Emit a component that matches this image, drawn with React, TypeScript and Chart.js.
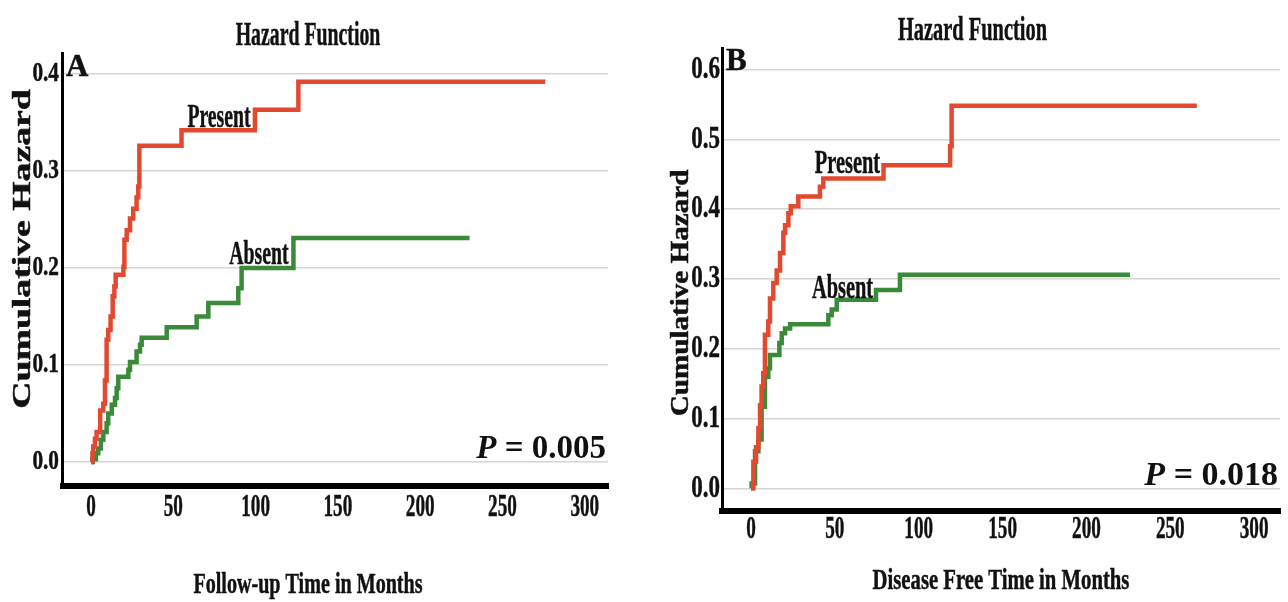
import React, { useEffect, useRef } from "react";
import { Chart, registerables } from "chart.js";

Chart.register(...registerables);

// ---------- data ----------
const xTicks = [0, 50, 100, 150, 200, 250, 300];
const yTicksA = [0, 0.1, 0.2, 0.3, 0.4];
const yTicksB = [0, 0.1, 0.2, 0.3, 0.4, 0.5, 0.6];

const seriesNames = ["Present", "Absent"];

// Panel A: Follow-up time
const presentTimeA = [0, 0.9, 1.4, 2.4, 3.4, 5.6, 7.5, 8.5, 9.5, 10.5, 11.9, 13.2, 14.2, 15, 19.7, 20.3, 21.7, 23.7, 25.7, 27.7, 28.7, 29.4, 55, 99.6, 126, 276];
const presentHazardA = [0, 0.009, 0.016, 0.024, 0.031, 0.053, 0.06, 0.084, 0.126, 0.136, 0.15, 0.171, 0.181, 0.193, 0.201, 0.229, 0.239, 0.251, 0.261, 0.273, 0.284, 0.326, 0.342, 0.363, 0.392, 0.392];
const absentTimeA = [0, 1, 3, 4.4, 6, 7.5, 9.5, 10.5, 12.6, 14.6, 15.6, 16.6, 22.7, 23.7, 27.7, 29.8, 30.8, 46, 64.2, 71.3, 89.5, 91.5, 123, 230];
const absentHazardA = [0, 0.003, 0.009, 0.014, 0.023, 0.031, 0.04, 0.05, 0.059, 0.066, 0.076, 0.088, 0.095, 0.103, 0.114, 0.121, 0.128, 0.139, 0.15, 0.164, 0.179, 0.2, 0.231, 0.231];

// Panel B: Disease free time
const presentTimeB = [0, 0.4, 1.4, 3.0, 4.4, 5.4, 6.3, 7.3, 8.3, 10.3, 11.3, 13.3, 15.3, 17.3, 19.3, 20.3, 22.3, 23.7, 28.2, 41.1, 43.1, 79, 118.7, 119.6, 265.8];
const presentHazardB = [0, 0, 0.038, 0.059, 0.086, 0.119, 0.146, 0.165, 0.22, 0.239, 0.272, 0.294, 0.312, 0.337, 0.366, 0.377, 0.394, 0.404, 0.418, 0.432, 0.444, 0.463, 0.49, 0.548, 0.548];
const absentTimeB = [0, 0.4, 2.4, 4.4, 6.3, 8.3, 10.3, 11.3, 16.9, 18.3, 20.3, 23.3, 46.1, 48.1, 51.1, 74.5, 88.8, 226];
const absentHazardB = [0, 0.007, 0.053, 0.07, 0.117, 0.16, 0.172, 0.191, 0.208, 0.222, 0.229, 0.235, 0.248, 0.256, 0.27, 0.284, 0.306, 0.306];

const titleText = "Hazard Function";
const yTitleText = "Cumulative Hazard";
const xTitleA = "Follow-up Time in Months";
const xTitleB = "Disease Free Time in Months";
const pValueA = "0.005";
const pValueB = "0.018";

// ---------- styling ----------
const FONT = '"Liberation Serif", "Times New Roman", serif';
const RED = "#e2492f";
const GREEN = "#3b8a3a";
const GRID = "#d8d4cf";
const INK = "#111111";

type Txt = {
  text: string;
  x: number;
  y: number;
  size: number;
  sx?: number;
  align?: CanvasTextAlign;
  baseline?: CanvasTextBaseline;
  rotate?: boolean;
};

function put(ctx: CanvasRenderingContext2D, t: Txt) {
  ctx.save();
  ctx.translate(t.x, t.y);
  if (t.rotate) ctx.rotate(-Math.PI / 2);
  ctx.scale(t.sx ?? 1, 1);
  ctx.font = `bold ${t.size}px ${FONT}`;
  ctx.textAlign = t.align ?? "center";
  ctx.textBaseline = t.baseline ?? "alphabetic";
  ctx.fillStyle = INK;
  ctx.strokeStyle = INK;
  ctx.lineWidth = 0.5;
  ctx.fillText(t.text, 0, 0);
  ctx.strokeText(t.text, 0, 0);
  ctx.restore();
}

function putP(ctx: CanvasRenderingContext2D, value: string, right: number, baseline: number, size: number) {
  ctx.save();
  ctx.fillStyle = INK;
  ctx.textBaseline = "alphabetic";
  ctx.textAlign = "left";
  ctx.font = `italic bold ${size}px ${FONT}`;
  const wP = ctx.measureText("P").width;
  ctx.font = `bold ${size}px ${FONT}`;
  const rest = " = " + value;
  const wR = ctx.measureText(rest).width;
  const x0 = right - wP - wR;
  ctx.font = `italic bold ${size}px ${FONT}`;
  ctx.fillText("P", x0, baseline);
  ctx.font = `bold ${size}px ${FONT}`;
  ctx.fillText(rest, x0 + wP, baseline);
  ctx.restore();
}

interface PanelSpec {
  pad: { left: number; top: number; right: number; bottom: number };
  xMin: number;
  xMax: number;
  yMin: number;
  yMax: number;
  yTicks: number[];
  present: { x: number; y: number }[];
  absent: { x: number; y: number }[];
  yTick: { right: number; size: number; sx: number };
  xTick: { y: number; size: number; sx: number };
  texts: Txt[];
  p: { value: string; right: number; baseline: number; size: number };
  xBorder: number;
  yBorder: number;
}

const zip = (xs: number[], ys: number[]) => xs.map((x, i) => ({ x, y: ys[i] }));

function makePlugin(spec: PanelSpec) {
  return {
    id: "panelText",
    afterDraw(chart: any) {
      const ctx: CanvasRenderingContext2D = chart.ctx;
      const xs = chart.scales.x;
      const ys = chart.scales.y;
      ys.ticks.forEach((tk: any) => {
        put(ctx, {
          text: tk.value.toFixed(1),
          x: spec.yTick.right,
          y: ys.getPixelForValue(tk.value),
          size: spec.yTick.size,
          sx: spec.yTick.sx,
          align: "right",
          baseline: "middle",
        });
      });
      xs.ticks.forEach((tk: any) => {
        put(ctx, {
          text: String(tk.value),
          x: xs.getPixelForValue(tk.value),
          y: spec.xTick.y,
          size: spec.xTick.size,
          sx: spec.xTick.sx,
          align: "center",
          baseline: "middle",
        });
      });
      spec.texts.forEach((t) => put(ctx, t));
      putP(ctx, spec.p.value, spec.p.right, spec.p.baseline, spec.p.size);
    },
  };
}

function Panel({ spec, left, width }: { spec: PanelSpec; left: number; width: number }) {
  const ref = useRef<HTMLCanvasElement | null>(null);
  useEffect(() => {
    if (!ref.current) return;
    const chart = new Chart(ref.current, {
      type: "line",
      data: {
        datasets: [
          {
            label: seriesNames[0],
            data: spec.present,
            borderColor: RED,
            backgroundColor: RED,
            borderWidth: 4.5,
            stepped: true,
            pointRadius: 0,
            fill: false,
            borderCapStyle: "butt",
            borderJoinStyle: "miter",
          },
          {
            label: seriesNames[1],
            data: spec.absent,
            borderColor: GREEN,
            backgroundColor: GREEN,
            borderWidth: 4.5,
            stepped: true,
            pointRadius: 0,
            fill: false,
            borderCapStyle: "butt",
            borderJoinStyle: "miter",
          },
        ],
      },
      options: {
        animation: false,
        responsive: true,
        maintainAspectRatio: false,
        events: [],
        layout: { padding: spec.pad },
        plugins: {
          legend: { display: false },
          tooltip: { enabled: false },
          title: { display: false },
        },
        scales: {
          x: {
            type: "linear",
            min: spec.xMin,
            max: spec.xMax,
            grid: { display: false, drawTicks: false },
            border: { display: true, color: "#000", width: spec.xBorder },
            ticks: { display: false },
            afterBuildTicks: (ax: any) => {
              ax.ticks = xTicks.map((v) => ({ value: v }));
            },
          },
          y: {
            type: "linear",
            min: spec.yMin,
            max: spec.yMax,
            grid: { display: true, color: GRID, lineWidth: 1.5, drawTicks: false },
            border: { display: true, color: "#000", width: spec.yBorder },
            ticks: { display: false },
            afterBuildTicks: (ax: any) => {
              ax.ticks = spec.yTicks.map((v) => ({ value: v }));
            },
          },
        },
      } as any,
      plugins: [makePlugin(spec)],
    });
    return () => chart.destroy();
  }, [spec]);
  return (
    <div style={{ position: "absolute", left, top: 0, width, height: 602 }}>
      <canvas ref={ref} />
    </div>
  );
}

const specA: PanelSpec = {
  pad: { left: 62.5, top: 53, right: 32, bottom: 116 },
  xMin: -17.3,
  xMax: 314.1,
  yMin: -0.0247,
  yMax: 0.4216,
  yTicks: yTicksA,
  present: zip(presentTimeA, presentHazardA),
  absent: zip(absentTimeA, absentHazardA),
  yTick: { right: 59, size: 28, sx: 0.76 },
  xTick: { y: 508, size: 32, sx: 0.6 },
  texts: [
    { text: titleText, x: 308, y: 45, size: 33, sx: 0.6 },
    { text: "A", x: 66, y: 76, size: 31, sx: 1.0, align: "left" },
    { text: seriesNames[0], x: 219, y: 127, size: 34, sx: 0.58 },
    { text: seriesNames[1], x: 259, y: 264, size: 33, sx: 0.6 },
    { text: yTitleText, x: 23, y: 249, size: 26, sx: 1.45, rotate: true, baseline: "middle" },
    { text: xTitleA, x: 308, y: 593, size: 30, sx: 0.67 },
  ],
  p: { value: pValueA, right: 606, baseline: 458, size: 33 },
  xBorder: 6,
  yBorder: 3,
};

const specB: PanelSpec = {
  pad: { left: 82, top: 48, right: 8, bottom: 91 },
  xMin: -17.3,
  xMax: 315.4,
  yMin: -0.0325,
  yMax: 0.6308,
  yTicks: yTicksB,
  present: zip(presentTimeB, presentHazardB),
  absent: zip(absentTimeB, absentHazardB),
  yTick: { right: 80, size: 32, sx: 0.72 },
  xTick: { y: 530, size: 32, sx: 0.6 },
  texts: [
    { text: titleText, x: 332.5, y: 40, size: 34, sx: 0.6 },
    { text: "B", x: 86, y: 70, size: 31, sx: 1.0, align: "left" },
    { text: seriesNames[0], x: 207.5, y: 173, size: 34, sx: 0.6 },
    { text: seriesNames[1], x: 202.5, y: 298, size: 34, sx: 0.6 },
    { text: yTitleText, x: 41, y: 293, size: 26, sx: 1.12, rotate: true, baseline: "middle" },
    { text: xTitleB, x: 361, y: 589, size: 30, sx: 0.69 },
  ],
  p: { value: pValueB, right: 638, baseline: 485, size: 34 },
  xBorder: 6,
  yBorder: 3,
};

export default function App() {
  return (
    <div style={{ position: "absolute", left: 0, top: 0, width: 1288, height: 602, background: "#fff", overflow: "hidden" }}>
      <Panel spec={specA} left={0} width={640} />
      <Panel spec={specB} left={640} width={648} />
    </div>
  );
}
